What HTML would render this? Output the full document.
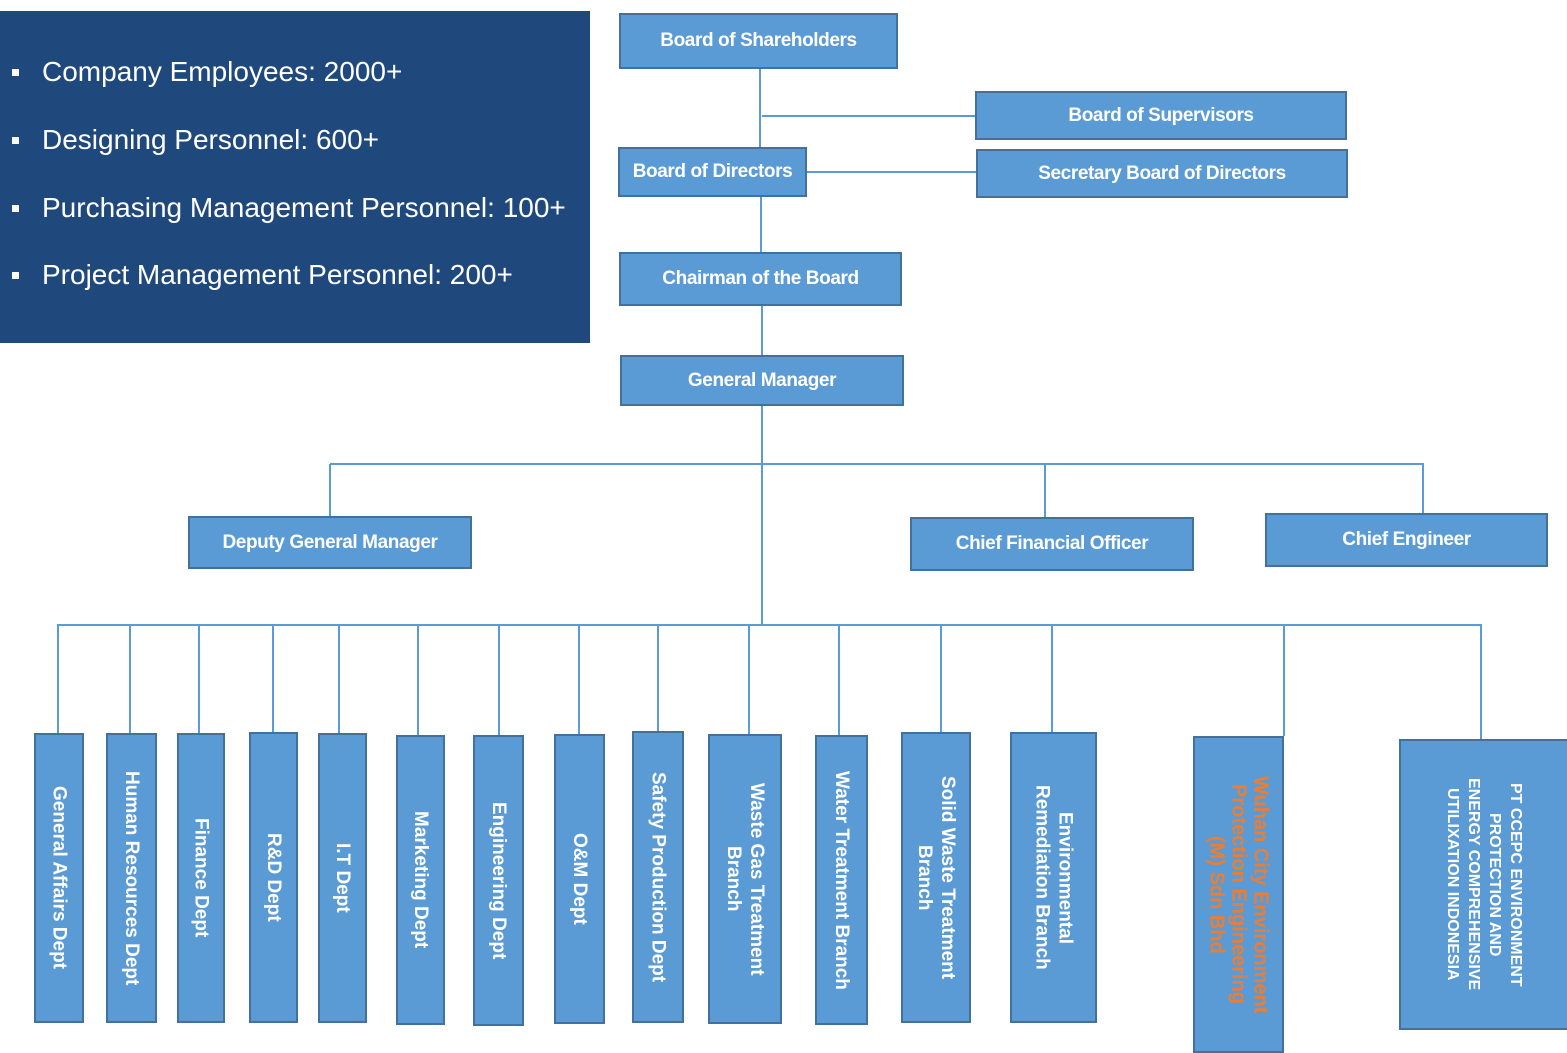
<!DOCTYPE html>
<html><head><meta charset="utf-8"><style>
body{margin:0;width:1567px;height:1053px;position:relative;background:#fff;overflow:hidden;font-family:"Liberation Sans",sans-serif}
.p{position:absolute;left:0;top:11px;width:590px;height:332px;background:#1f497d}
.li{position:absolute;left:42px;color:#fff;font-size:28px;white-space:nowrap;line-height:32px}
.bu{position:absolute;left:12px;width:7px;height:7px;background:#fff}
.b{position:absolute;box-sizing:border-box;background:#5b9bd5;border:2px solid #41719c;display:flex;align-items:center;justify-content:center;color:#fff;font-weight:bold;font-size:19px;letter-spacing:-0.4px;text-align:center;white-space:nowrap}
.v{writing-mode:vertical-rl;font-size:19px;line-height:23px;letter-spacing:0}
.l{position:absolute;background:#5b9bd5}
</style></head><body>
<div class="p"></div>
<div class="bu" style="top:69px"></div><div class="li" style="top:56px">Company Employees: 2000+</div>
<div class="bu" style="top:137px"></div><div class="li" style="top:124px">Designing Personnel: 600+</div>
<div class="bu" style="top:205px"></div><div class="li" style="top:192px">Purchasing Management Personnel: 100+</div>
<div class="bu" style="top:272px"></div><div class="li" style="top:259px">Project Management Personnel: 200+</div>

<div class="l" style="left:759px;top:68px;width:2px;height:80px"></div>
<div class="l" style="left:762px;top:115px;width:214px;height:2px"></div>
<div class="l" style="left:806px;top:171px;width:170px;height:2px"></div>
<div class="l" style="left:760px;top:196px;width:2px;height:57px"></div>
<div class="l" style="left:761px;top:305px;width:2px;height:51px"></div>
<div class="l" style="left:761px;top:405px;width:2px;height:221px"></div>
<div class="l" style="left:330px;top:463px;width:1094px;height:2px"></div>
<div class="l" style="left:329px;top:464px;width:2px;height:52px"></div>
<div class="l" style="left:1044px;top:464px;width:2px;height:53px"></div>
<div class="l" style="left:1422px;top:464px;width:2px;height:49px"></div>
<div class="l" style="left:57px;top:624px;width:1425px;height:2px"></div>
<div class="l" style="left:57px;top:625px;width:2px;height:108px"></div>
<div class="l" style="left:129px;top:625px;width:2px;height:108px"></div>
<div class="l" style="left:198px;top:625px;width:2px;height:108px"></div>
<div class="l" style="left:272px;top:625px;width:2px;height:107px"></div>
<div class="l" style="left:338px;top:625px;width:2px;height:108px"></div>
<div class="l" style="left:417px;top:625px;width:2px;height:110px"></div>
<div class="l" style="left:498px;top:625px;width:2px;height:110px"></div>
<div class="l" style="left:578px;top:625px;width:2px;height:109px"></div>
<div class="l" style="left:657px;top:625px;width:2px;height:106px"></div>
<div class="l" style="left:748px;top:625px;width:2px;height:109px"></div>
<div class="l" style="left:838px;top:625px;width:2px;height:110px"></div>
<div class="l" style="left:940px;top:625px;width:2px;height:107px"></div>
<div class="l" style="left:1051px;top:625px;width:2px;height:107px"></div>
<div class="l" style="left:1283px;top:625px;width:2px;height:111px"></div>
<div class="l" style="left:1480px;top:625px;width:2px;height:114px"></div>

<div class="b" style="left:619px;top:13px;width:279px;height:56px">Board of Shareholders</div>
<div class="b" style="left:975px;top:91px;width:372px;height:49px">Board of Supervisors</div>
<div class="b" style="left:618px;top:147px;width:189px;height:50px">Board of Directors</div>
<div class="b" style="left:976px;top:149px;width:372px;height:49px">Secretary Board of Directors</div>
<div class="b" style="left:619px;top:252px;width:283px;height:54px">Chairman of the Board</div>
<div class="b" style="left:620px;top:355px;width:284px;height:51px">General Manager</div>
<div class="b" style="left:188px;top:516px;width:284px;height:53px">Deputy General Manager</div>
<div class="b" style="left:910px;top:517px;width:284px;height:54px">Chief Financial Officer</div>
<div class="b" style="left:1265px;top:513px;width:283px;height:54px">Chief Engineer</div>

<div class="b v" style="left:34px;top:733px;width:50px;height:290px">General Affairs Dept</div>
<div class="b v" style="left:106px;top:733px;width:51px;height:290px">Human Resources Dept</div>
<div class="b v" style="left:177px;top:733px;width:48px;height:290px">Finance Dept</div>
<div class="b v" style="left:249px;top:732px;width:49px;height:291px">R&amp;D Dept</div>
<div class="b v" style="left:318px;top:733px;width:49px;height:290px">I.T Dept</div>
<div class="b v" style="left:396px;top:735px;width:49px;height:290px">Marketing Dept</div>
<div class="b v" style="left:473px;top:735px;width:51px;height:291px">Engineering Dept</div>
<div class="b v" style="left:554px;top:734px;width:51px;height:290px">O&amp;M Dept</div>
<div class="b v" style="left:632px;top:731px;width:52px;height:292px">Safety Production Dept</div>
<div class="b v" style="left:708px;top:734px;width:74px;height:290px">Waste Gas Treatment<br>Branch</div>
<div class="b v" style="left:815px;top:735px;width:53px;height:290px">Water Treatment Branch</div>
<div class="b v" style="left:901px;top:732px;width:70px;height:291px">Solid Waste Treatment<br>Branch</div>
<div class="b v" style="left:1010px;top:732px;width:87px;height:291px">Environmental<br>Remediation Branch</div>
<div class="b v" style="left:1193px;top:736px;width:91px;height:317px;color:#ed7d31;font-size:20px;line-height:22px">Wuhan City Environment<br>Protection Engineering<br>(M) Sdn Bhd</div>
<div class="b v" style="left:1399px;top:739px;width:170px;height:291px;font-size:16px;line-height:21px">PT CCEPC ENVIRONMENT<br>PROTECTION AND<br>ENERGY COMPREHENSIVE<br>UTILIXATION INDONESIA</div>
</body></html>
